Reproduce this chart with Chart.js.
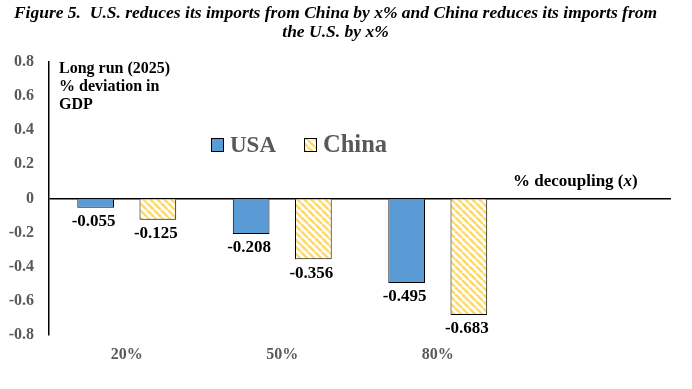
<!DOCTYPE html>
<html>
<head>
<meta charset="utf-8">
<script src="https://cdn.jsdelivr.net/npm/chart.js@4"></script>
<style>
  body { margin: 0; background: #fff; }
  canvas { display: block; }
</style>
</head>
<body>
<canvas id="chart" width="692" height="389"></canvas>
<script>
// values
const categories = ["20%", "50%", "80%", ""];
const usaValues = [-0.055, -0.208, -0.495, null];
const chinaValues = [-0.125, -0.356, -0.683, null];
const seriesNames = ["USA", "China"];
const titleLines = [
  "Figure 5.  U.S. reduces its imports from China by x% and China reduces its imports from",
  "the U.S. by x%"
];
const yNoteLines = ["Long run (2025)", "% deviation in", "GDP"];

const serif = "'Liberation Serif', 'Times New Roman', serif";
const gray = "#595959";

// yellow diagonal hatch like the excel fill
function makeHatch() {
  const c = document.createElement("canvas");
  c.width = 7;
  c.height = 7;
  const g = c.getContext("2d");
  g.fillStyle = "#fff";
  g.fillRect(0, 0, 7, 7);
  g.strokeStyle = "#FFD966";
  g.lineWidth = 2.5;
  [-7, 0, 7].forEach(k => {
    g.beginPath();
    g.moveTo(k, 0);
    g.lineTo(k + 7, 7);
    g.stroke();
  });
  return g.createPattern(c, "repeat");
}
const hatch = makeHatch();

// value labels under each bar
const valueLabels = {
  id: "valueLabels",
  afterDatasetsDraw(chart) {
    const ctx = chart.ctx;
    ctx.save();
    ctx.font = "bold 17px " + serif;
    ctx.fillStyle = "#000";
    ctx.textAlign = "center";
    ctx.textBaseline = "middle";
    chart.data.datasets.forEach((ds, i) => {
      chart.getDatasetMeta(i).data.forEach((bar, j) => {
        const v = ds.data[j];
        if (v === null) return;
        ctx.fillText(v.toFixed(3), bar.x - 2, bar.y + 14);
      });
    });
    ctx.restore();
  }
};

// legend in the middle of the plot + the two notes
const extras = {
  id: "extras",
  afterDraw(chart) {
    const ctx = chart.ctx;
    const ds = chart.data.datasets;
    ctx.save();

    // legend
    ctx.textBaseline = "middle";
    const items = [{x: 211, ds: ds[0], size: 23}, {x: 304, ds: ds[1], size: 24.5}];
    items.forEach(it => {
      ctx.fillStyle = it.ds.backgroundColor;
      ctx.fillRect(it.x, 138, 13, 14);
      ctx.strokeStyle = "#000";
      ctx.lineWidth = 1;
      ctx.strokeRect(it.x + 0.5, 138.5, 12, 13);
      ctx.fillStyle = gray;
      ctx.textAlign = "left";
      ctx.font = "bold " + it.size + "px " + serif;
      ctx.fillText(it.ds.label, it.x + 19, 146);
    });

    // y axis note
    ctx.fillStyle = "#000";
    ctx.font = "bold 16px " + serif;
    ctx.textAlign = "left";
    yNoteLines.forEach((t, i) => ctx.fillText(t, 59, 69 + i * 18));

    // x axis note, with italic x
    let x = 513;
    const y = 182;
    ctx.font = "bold 17px " + serif;
    ctx.fillText("% decoupling (", x, y);
    x += ctx.measureText("% decoupling (").width;
    ctx.font = "italic bold 17px " + serif;
    ctx.fillText("x", x, y);
    x += ctx.measureText("x").width;
    ctx.font = "bold 17px " + serif;
    ctx.fillText(")", x, y);

    ctx.restore();
  }
};

new Chart(document.getElementById("chart"), {
  type: "bar",
  data: {
    labels: categories,
    datasets: [
      {
        label: seriesNames[0],
        data: usaValues,
        backgroundColor: "#5B9BD5",
        borderColor: "#000",
        borderWidth: 1,
        categoryPercentage: 0.8,
        barPercentage: 0.59
      },
      {
        label: seriesNames[1],
        data: chinaValues,
        backgroundColor: hatch,
        borderColor: "#000",
        borderWidth: 1,
        categoryPercentage: 0.8,
        barPercentage: 0.59
      }
    ]
  },
  options: {
    responsive: false,
    devicePixelRatio: 1,
    animation: false,
    layout: { padding: { left: 0, right: 21, top: 0, bottom: 0 } },
    plugins: {
      legend: { display: false },
      tooltip: { enabled: false },
      title: {
        display: true,
        text: titleLines,
        color: "#000",
        font: { family: serif, size: 17.5, weight: "bold", style: "italic", lineHeight: 1.08 },
        padding: { top: 4, bottom: 20 }
      }
    },
    scales: {
      x: {
        grid: { display: false, drawTicks: false },
        border: { display: false },
        ticks: {
          color: gray,
          font: { family: serif, size: 16, weight: "bold" },
          padding: 10
        },
        afterFit: s => { s.height = 54; }
      },
      y: {
        min: -0.8,
        max: 0.8,
        grid: {
          drawTicks: false,
          color: c => (c.tick && Math.abs(c.tick.value) < 1e-9 ? "#000" : "rgba(0,0,0,0)"),
          lineWidth: 1.5
        },
        border: { display: true, color: "#000", width: 1.5 },
        ticks: {
          stepSize: 0.2,
          color: gray,
          padding: 15,
          font: { family: serif, size: 16, weight: "bold" },
          callback: v => String(Math.round(v * 10) / 10)
        },
        afterFit: s => { s.width = 49; }
      }
    }
  },
  plugins: [valueLabels, extras]
});
</script>
</body>
</html>
